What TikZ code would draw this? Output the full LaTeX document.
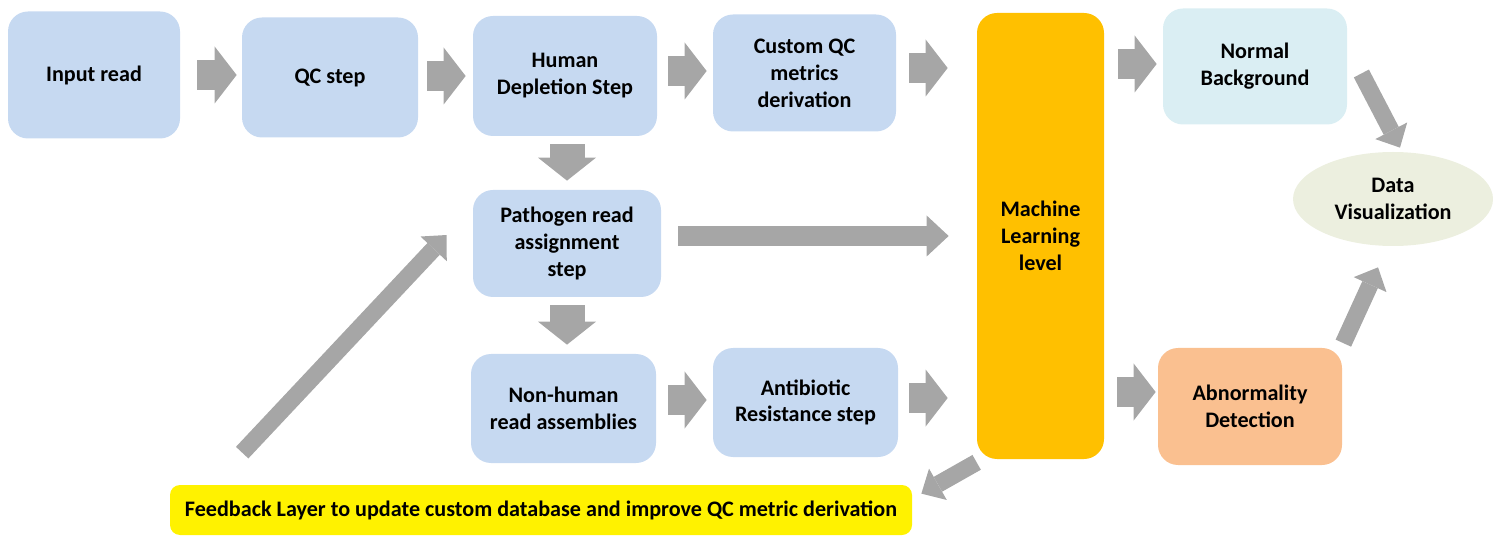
\documentclass[tikz,border=0pt]{standalone}
\usepackage{fontspec}
\setmainfont{Carlito}
\usetikzlibrary{arrows.meta,shapes.geometric}

\definecolor{boxblue}{HTML}{C6D9F1}
\definecolor{normcol}{HTML}{DAEEF3}
\definecolor{viscol}{HTML}{ECEFDF}
\definecolor{mlcol}{HTML}{FFC000}
\definecolor{abncol}{HTML}{FAC090}
\definecolor{arrgray}{HTML}{A6A6A6}

\begin{document}
\begin{tikzpicture}[
  every node/.style={font=\bfseries\fontsize{12.6}{15.3}\selectfont, align=center},
  stepbox/.style={rectangle, rounded corners=4mm, fill=boxblue, inner sep=0pt},
  fat/.style={draw=arrgray, line width=6mm, -{Triangle[length=4.4mm, width=11.4mm, line width=0pt]}},
  vfat/.style={draw=arrgray, line width=7mm, -{Triangle[length=4.6mm, width=11.6mm, line width=0pt]}},
  slim/.style={draw=arrgray, line width=4mm, -{Triangle[length=4.4mm, width=8.2mm, line width=0pt]}},
  diag/.style={draw=arrgray, line width=3.4mm, -{Triangle[length=3.8mm, width=7.2mm, line width=0pt]}}]
  \useasboundingbox (0,0) rectangle (29.86,-10.72);

  % top row
  \node[stepbox, minimum width=3.44cm, minimum height=2.54cm] (in) at (1.88,-1.50) {Input read};
  \node[stepbox, minimum width=3.52cm, minimum height=2.40cm] (qc) at (6.60,-1.55) {QC step};
  \node[stepbox, minimum width=3.68cm, minimum height=2.40cm] (hd) at (11.30,-1.52) {Human\\Depletion Step};
  \node[stepbox, minimum width=3.66cm, minimum height=2.34cm] (cqc) at (16.09,-1.46) {Custom QC\\metrics\\derivation};

  % middle and bottom
  \node[stepbox, minimum width=3.76cm, minimum height=2.14cm] (pa) at (11.34,-4.87) {Pathogen read\\assignment\\step};
  \node[stepbox, minimum width=3.70cm, minimum height=2.18cm] (nh) at (11.27,-8.17) {Non-human\\read assemblies};
  \node[stepbox, minimum width=3.70cm, minimum height=2.18cm] (ar) at (16.11,-8.05) {Antibiotic\\Resistance step};

  % learning and outputs
  \node[stepbox, fill=mlcol, minimum width=2.54cm, minimum height=8.92cm] (ml) at (20.81,-4.72) {Machine\\Learning\\level};
  \node[stepbox, fill=normcol, minimum width=3.68cm, minimum height=2.32cm] (nb) at (25.10,-1.33) {Normal\\Background};
  \node[stepbox, fill=abncol, minimum width=3.68cm, minimum height=2.34cm] (ab) at (25.00,-8.13) {Abnormality\\Detection};
  \node[ellipse, fill=viscol, inner sep=0pt, minimum width=4.0cm, minimum height=1.88cm] (dv) at (27.86,-3.98) {Data\\Visualization};

  % feedback
  \node[rectangle, rounded corners=2mm, fill=yellow, minimum width=14.84cm, minimum height=1.0cm] (fb) at (10.82,-10.20)
    {Feedback Layer to update custom database and improve QC metric derivation};

  % pipeline arrows
  \draw[fat, shorten <=3.4mm, shorten >=1.0mm] (in.east |- 0,-1.50) -- (qc.west |- 0,-1.50);
  \draw[fat, shorten <=1.8mm, shorten >=1.4mm] (qc.east |- 0,-1.52) -- (hd.west |- 0,-1.52);
  \draw[fat, shorten <=2.2mm, shorten >=1.2mm] (hd.east |- 0,-1.42) -- (cqc.west |- 0,-1.42);
  \draw[fat, shorten <=2.6mm, shorten >=5.8mm] (cqc.east |- 0,-1.36) -- (ml.west |- 0,-1.36);
  \draw[fat, shorten <=2.8mm, shorten >=1.2mm] (ml.east |- 0,-1.28) -- (nb.west |- 0,-1.28);
  \draw[vfat, shorten <=1.6mm, shorten >=1.8mm] (pa.north |- hd.south) -- (pa.north);
  \draw[vfat, shorten <=1.6mm, shorten >=1.8mm] (pa.south) -- (pa.south |- nh.north);
  \draw[slim, shorten <=3.4mm, shorten >=5.6mm] (pa.east |- 0,-4.72) -- (ml.west |- 0,-4.72);
  \draw[fat, shorten <=2.4mm, shorten >=1.2mm] (nh.east |- 0,-8.00) -- (ar.west |- 0,-8.00);
  \draw[fat, shorten <=2.2mm, shorten >=5.8mm] (ar.east |- 0,-7.96) -- (ml.west |- 0,-7.96);
  \draw[fat, shorten <=2.6mm, shorten >=0.4mm] (ml.east |- 0,-7.84) -- (ab.west |- 0,-7.84);

  % diagonal arrows
  \draw[diag] ([shift={(0.28,-0.14)}]nb.east) -- ([shift={(0.14,0.08)}]dv.north);
  \draw[diag] ([shift={(0.02,0.09)}]ab.north east) -- ([shift={(-0.30,-0.42)}]dv.south);
  \draw[diag] ([shift={(0,-0.06)}]ml.south west) -- ([shift={(0.18,-0.18)}]fb.north east);
  \draw[diag] ([shift={(1.45,0.64)}]fb.north west) -- ([shift={(-0.52,0.17)}]pa.west);
\end{tikzpicture}
\end{document}
